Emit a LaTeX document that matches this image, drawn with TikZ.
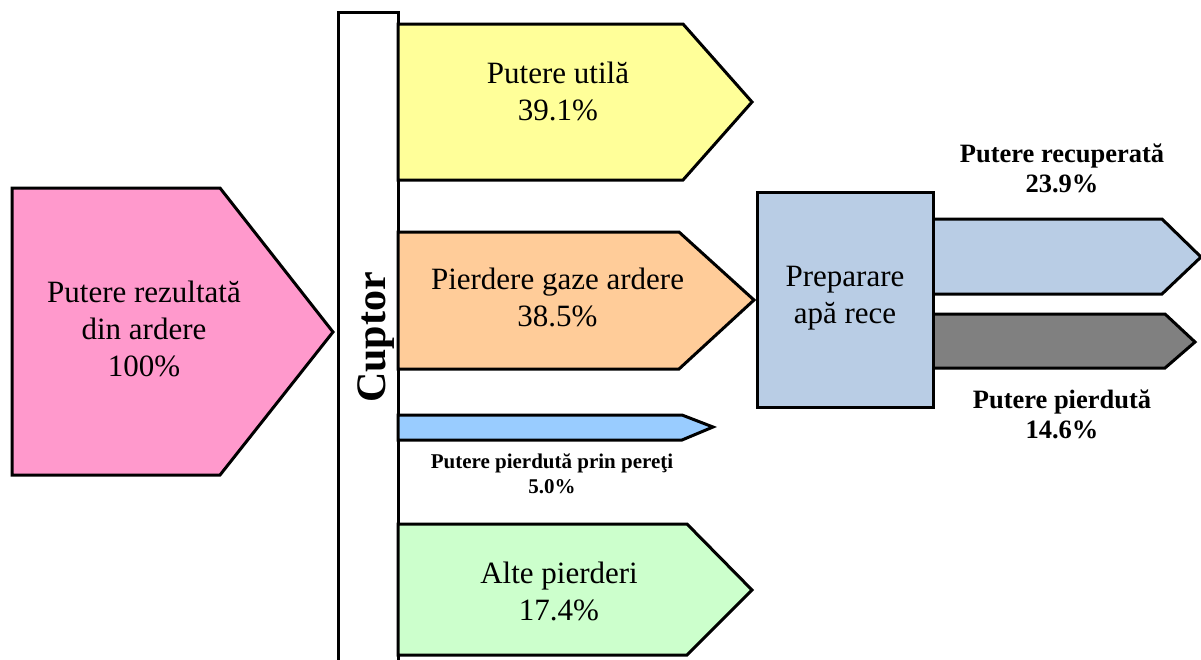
\documentclass[tikz,border=0pt]{standalone}
\usepackage{fontspec}
\setmainfont{Liberation Serif}
\definecolor{inpink}{HTML}{FF99CC}
\definecolor{useyellow}{HTML}{FFFF99}
\definecolor{gasorange}{HTML}{FFCC99}
\definecolor{wallblue}{HTML}{99CCFF}
\definecolor{othergreen}{HTML}{CCFFCC}
\definecolor{waterblue}{HTML}{B9CDE5}
\definecolor{lostgray}{HTML}{808080}
\tikzset{
  flow/.style={draw=black, line width=3pt, line join=miter},
  bigtext/.style={align=center, inner sep=0pt, font=\fontsize{31}{37}\selectfont},
  boldtext/.style={align=center, inner sep=0pt, font=\bfseries\fontsize{26.5}{30}\selectfont},
  smalltext/.style={align=center, inner sep=0pt, font=\bfseries\fontsize{21}{25}\selectfont},
  furnacetext/.style={rotate=90, anchor=base, inner sep=0pt, font=\bfseries\fontsize{42}{48}\selectfont},
}
\begin{document}
\begin{tikzpicture}[x=1pt, y=-1pt]
\useasboundingbox (0,0) rectangle (1201,659);
\begin{scope}
\clip (0,0) rectangle (1201,659);
% combustion input
\draw[flow, fill=inpink] (12,188) -- (220,188) -- (333,332) -- (220,475) -- (12,475) -- cycle;
% furnace bar
\draw[flow, fill=white] (338,12) rectangle (398,690);
% furnace outputs
\draw[flow, fill=useyellow] (398,24) -- (683,24) -- (752,102) -- (683,180) -- (398,180) -- cycle;
\draw[flow, fill=gasorange] (398,232) -- (679,232) -- (754,300) -- (679,369) -- (398,369) -- cycle;
\draw[flow, fill=wallblue] (398,415) -- (682,415) -- (713,427) -- (682,440) -- (398,440) -- cycle;
\draw[flow, fill=othergreen] (398,524) -- (687,524) -- (752,590) -- (687,655) -- (398,655) -- cycle;
% water preparation outputs
\draw[flow, fill=waterblue] (933,219) -- (1162,219) -- (1201,257) -- (1162,294) -- (933,294) -- cycle;
\draw[flow, fill=lostgray] (933,314) -- (1165,314) -- (1195,342) -- (1165,368) -- (933,368) -- cycle;
\end{scope}
% water preparation block
\node[flow, fill=waterblue, minimum width=176pt, minimum height=215pt, inner sep=0pt] (prep) at (845,299.5) {};
\node[bigtext] (preptext) at (845,298) {Preparare\\apă rece};

% labels
\node[bigtext] (input) at (144,329) {Putere rezultată\\din ardere\\100\%};
\node[furnacetext] (cuptor) at (385,337.5) {Cuptor};
\node[bigtext] (useful) at (558,91) {Putere utilă\\39.1\%};
\node[bigtext] (gas) at (557.5,297) {Pierdere gaze ardere\\38.5\%};
\node[smalltext] (walls) at (552,473.4) {Putere pierdută prin pereţi\\5.0\%};
\node[bigtext] (other) at (559,591) {Alte pierderi\\17.4\%};
\node[boldtext] (recovered) at (1062,168) {Putere recuperată\\23.9\%};
\node[boldtext] (lost) at (1062,414) {Putere pierdută\\14.6\%};
\end{tikzpicture}
\end{document}
